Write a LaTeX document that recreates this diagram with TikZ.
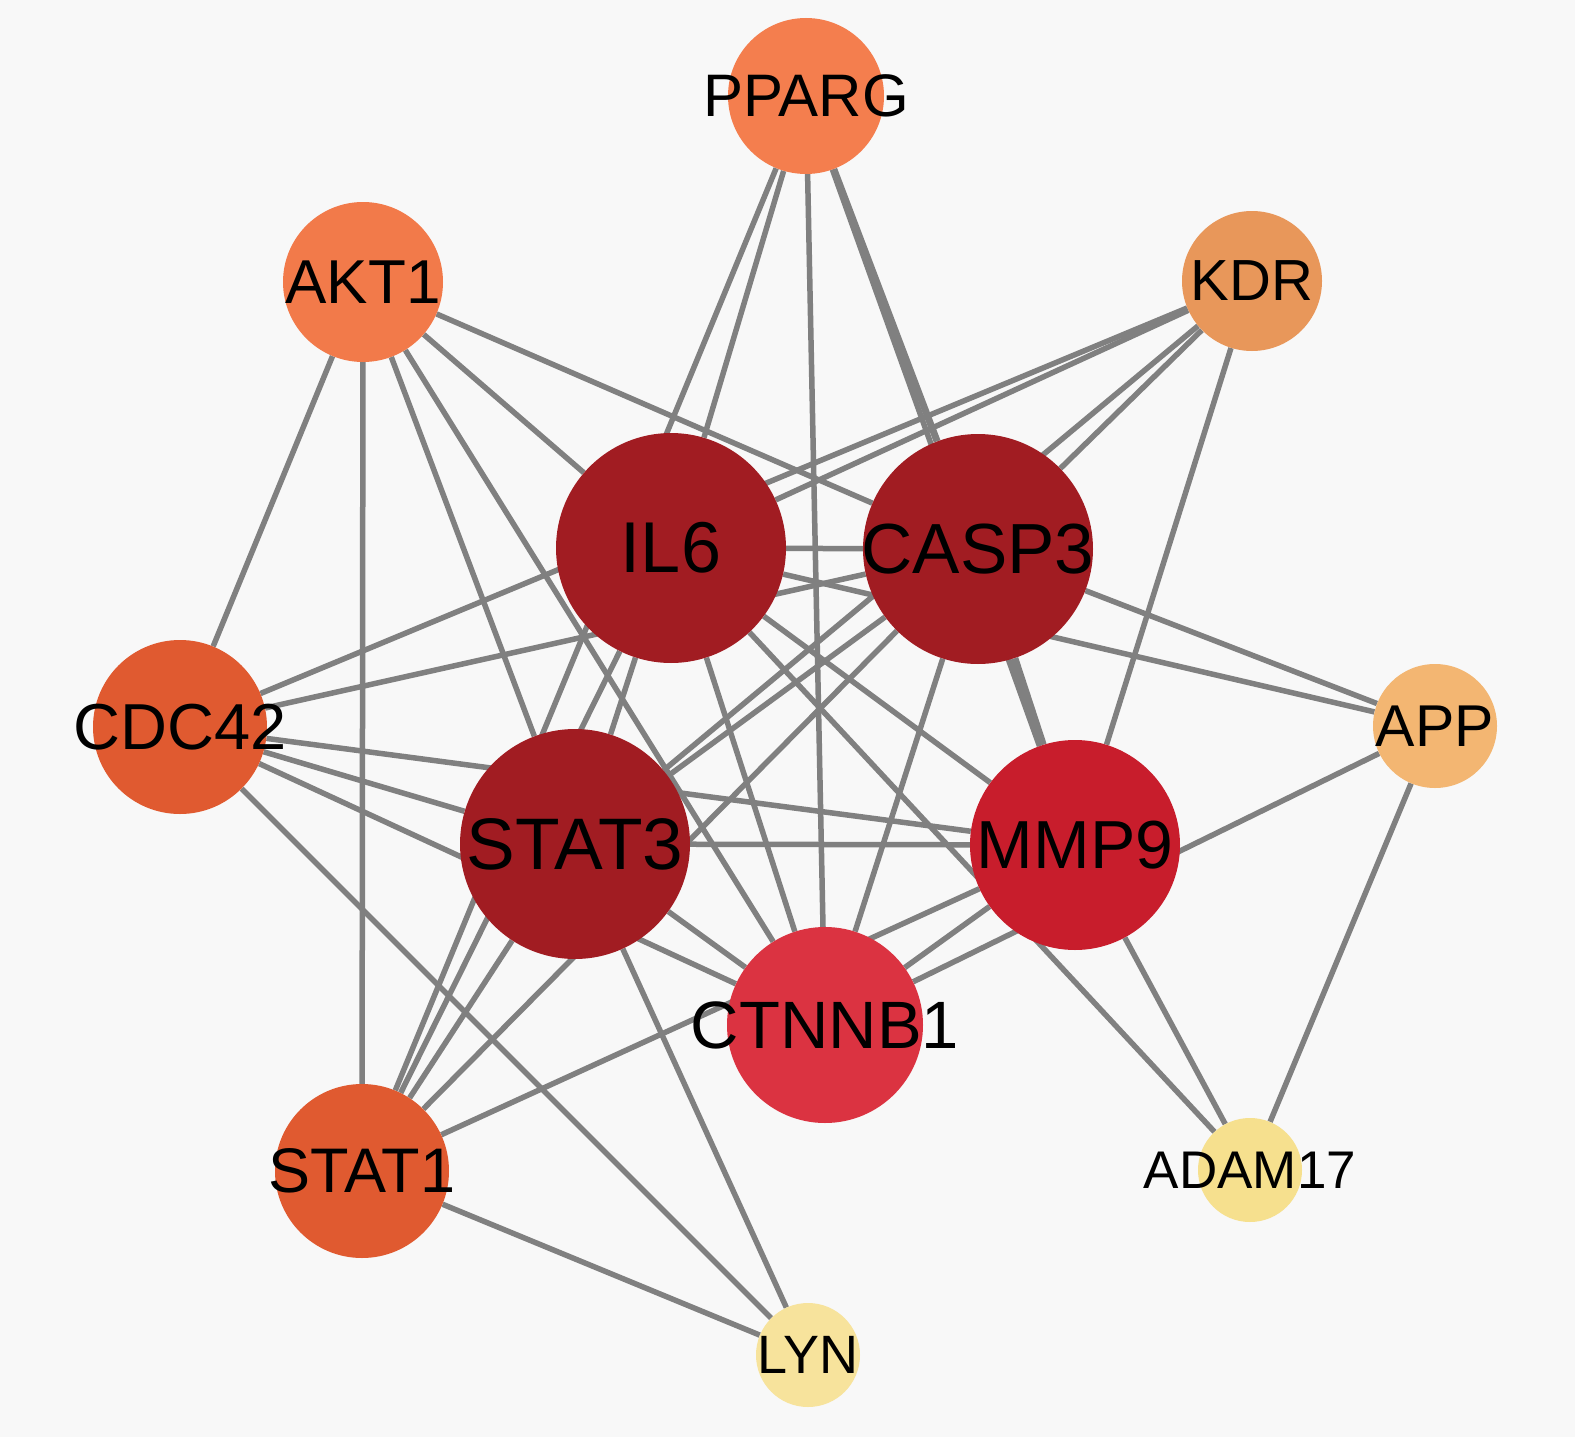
\documentclass[tikz,border=0pt]{standalone}
\usepackage{fontspec}
\setmainfont{Liberation Sans}
\pgfdeclarelayer{edges}
\pgfsetlayers{edges,main}
\definecolor{bgcol}{HTML}{F8F8F8}
\definecolor{edgegray}{HTML}{808080}
\definecolor{cPPARG}{HTML}{F47E4E}
\definecolor{cAKT}{HTML}{F27A4A}
\definecolor{cKDR}{HTML}{E8975A}
\definecolor{cTop}{HTML}{A11C22}
\definecolor{cMMP}{HTML}{C81D2C}
\definecolor{cCTN}{HTML}{DB3341}
\definecolor{cCDC}{HTML}{E05A30}
\definecolor{cAPP}{HTML}{F3B672}
\definecolor{cADAM}{HTML}{F6E08E}
\definecolor{cLYN}{HTML}{F7E39C}
\tikzset{
  disc/.style={circle, inner sep=0pt, draw=none},
  lbl/.style={inner sep=0pt, text=black},
  link/.style={draw=edgegray, line width=5.5pt},
  heavy/.style={draw=edgegray, line width=9pt},
}
\newcommand{\fs}[1]{\fontsize{#1}{#1}\selectfont}
\begin{document}
\begin{tikzpicture}[x=1pt,y=-1pt]
\useasboundingbox (0,0) rectangle (1575,1437);
% discs
\node[disc, fill=cPPARG, minimum size=156pt] (PPARG) at (806,96) {};
\node[disc, fill=cAKT, minimum size=160pt] (AKT1) at (363,282) {};
\node[disc, fill=cKDR, minimum size=140pt] (KDR) at (1252,281) {};
\node[disc, fill=cTop, minimum size=230pt] (IL6) at (671,548) {};
\node[disc, fill=cTop, minimum size=230pt] (CASP3) at (978,549) {};
\node[disc, fill=cCDC, minimum size=174pt] (CDC42) at (180,727) {};
\node[disc, fill=cAPP, minimum size=124pt] (APP) at (1435,726) {};
\node[disc, fill=cTop, minimum size=230pt] (STAT3) at (575,844) {};
\node[disc, fill=cMMP, minimum size=210pt] (MMP9) at (1075,845) {};
\node[disc, fill=cCTN, minimum size=196pt] (CTNNB1) at (825,1025) {};
\node[disc, fill=cCDC, minimum size=174pt] (STAT1) at (362,1171) {};
\node[disc, fill=cADAM, minimum size=104pt] (ADAM17) at (1250,1170) {};
\node[disc, fill=cLYN, minimum size=104pt] (LYN) at (808,1355) {};
% labels
\node[lbl, font=\fs{60}] (PPARG-t) at (PPARG) {PPARG};
\node[lbl, font=\fs{62}] (AKT1-t) at (AKT1) {AKT1};
\node[lbl, font=\fs{58}] (KDR-t) at (KDR) {KDR};
\node[lbl, font=\fs{72}] (IL6-t) at (IL6) {IL6};
\node[lbl, font=\fs{71}] (CASP3-t) at (CASP3) {CASP3};
\node[lbl, font=\fs{65}] (CDC42-t) at (CDC42) {CDC42};
\node[lbl, font=\fs{59}] (APP-t) at (APP) {APP};
\node[lbl, font=\fs{73}] (STAT3-t) at (STAT3) {STAT3};
\node[lbl, font=\fs{68}] (MMP9-t) at (MMP9) {MMP9};
\node[lbl, font=\fs{67}] (CTNNB1-t) at (CTNNB1) {CTNNB1};
\node[lbl, font=\fs{63}] (STAT1-t) at (STAT1) {STAT1};
\node[lbl, font=\fs{53}] (ADAM17-t) at (ADAM17) {ADAM17};
\node[lbl, font=\fs{54}] (LYN-t) at (LYN) {LYN};
\begin{pgfonlayer}{edges}
\fill[bgcol] (0,0) rectangle (1575,1437);
% PPARG
\draw[link] (PPARG) -- (STAT1);
\draw[link] (PPARG) -- (IL6);
\draw[link] (PPARG) -- (CTNNB1);
\draw[link, line width=7pt] (PPARG) -- (CASP3);
\draw[link] (PPARG) -- (MMP9);
% AKT1
\draw[link] (AKT1) -- (CDC42);
\draw[link] (AKT1) -- (STAT1);
\draw[link] (AKT1) -- (STAT3);
\draw[link] (AKT1) -- (CTNNB1);
\draw[link] (AKT1) -- (IL6);
\draw[link] (AKT1) -- (CASP3);
% KDR
\draw[link] (KDR) -- (IL6);
\draw[link] (KDR) -- (CDC42);
\draw[link] (KDR) -- (STAT3);
\draw[link] (KDR) -- (CASP3);
\draw[link] (KDR) -- (MMP9);
% IL6
\draw[link] (IL6) -- (CASP3);
\draw[link] (IL6) -- (APP);
\draw[link] (IL6) -- (STAT3);
\draw[link] (IL6) -- (STAT1);
\draw[link] (IL6) -- (CTNNB1);
\draw[link] (IL6) -- (MMP9);
\draw[link] (IL6) -- (ADAM17);
% CASP3
\draw[link] (CASP3) -- (CDC42);
\draw[link] (CASP3) -- (APP);
\draw[link] (CASP3) -- (STAT3);
\draw[link] (CASP3) -- (STAT1);
\draw[link] (CASP3) -- (CTNNB1);
\draw[heavy] (CASP3) -- (MMP9);
% CDC42
\draw[link] (CDC42) -- (MMP9);
\draw[link] (CDC42) -- (STAT3);
\draw[link] (CDC42) -- (CTNNB1);
\draw[link] (CDC42) -- (LYN);
% STAT3
\draw[link] (STAT3) -- (MMP9);
\draw[link] (STAT3) -- (STAT1);
\draw[link] (STAT3) -- (CTNNB1);
\draw[link] (STAT3) -- (LYN);
% MMP9
\draw[link] (MMP9) -- (CTNNB1);
\draw[link] (MMP9) -- (STAT1);
\draw[link] (MMP9) -- (ADAM17);
% others
\draw[link] (CTNNB1) -- (APP);
\draw[link] (STAT1) -- (LYN);
\draw[link] (APP) -- (ADAM17);
\end{pgfonlayer}
\end{tikzpicture}
\end{document}
